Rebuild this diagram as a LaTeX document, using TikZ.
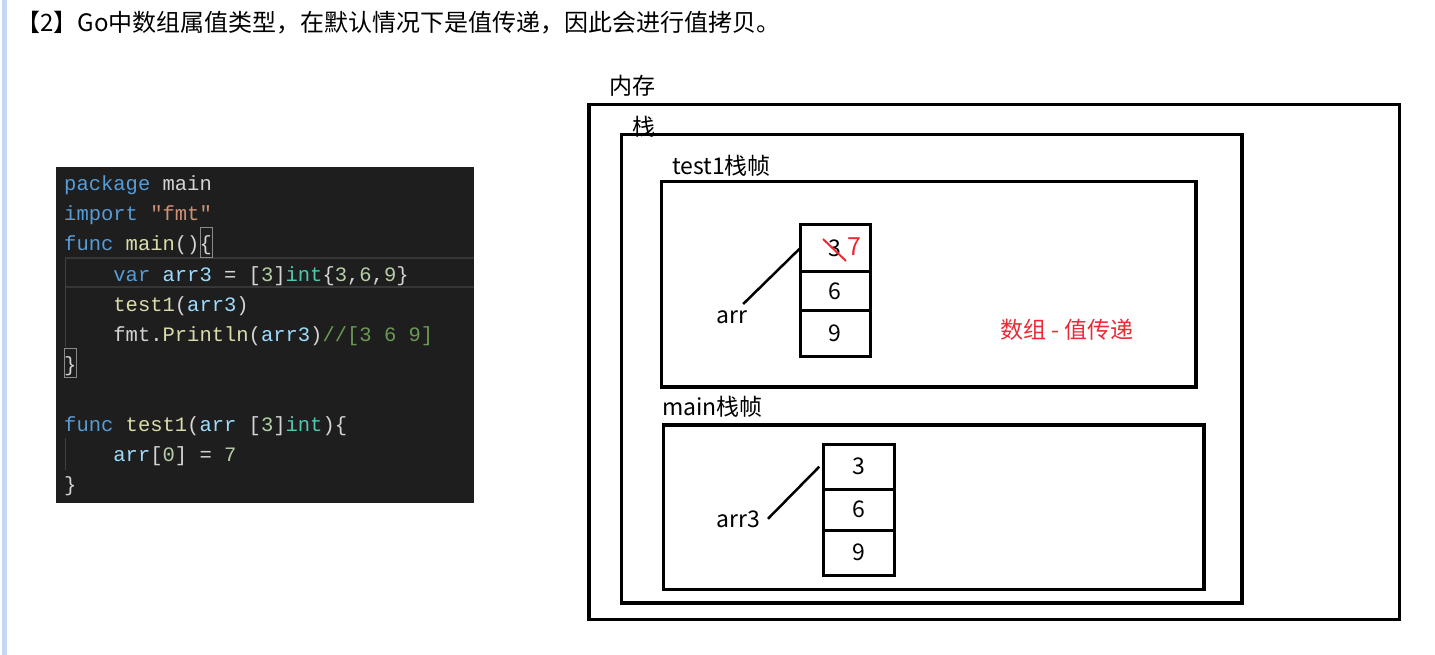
\documentclass[tikz,border=0pt]{standalone}
\usepackage{fontspec}
\usepackage{xcolor}
\usepackage{tikz}
\usetikzlibrary{positioning}
\newfontfamily\cjkfont{Noto Sans CJK SC}
\newfontfamily\codefont{Liberation Mono}
\definecolor{codebg}{HTML}{1E1E1E}
\definecolor{goplain}{HTML}{D4D4D4}
\definecolor{gokw}{HTML}{569CD6}
\definecolor{govar}{HTML}{9CDCFE}
\definecolor{gofn}{HTML}{DCDCAA}
\definecolor{gostr}{HTML}{CE9178}
\definecolor{gotype}{HTML}{4EC9B0}
\definecolor{gonum}{HTML}{B5CEA8}
\definecolor{gocmt}{HTML}{6A9955}
\definecolor{hlline}{HTML}{363636}
\definecolor{guideline}{HTML}{404040}
\definecolor{bracketbox}{HTML}{8A8A8A}
\definecolor{notered}{HTML}{EC2A36}
\definecolor{sidebar}{HTML}{C4D9F5}
\newcommand\gokw[1]{\textcolor{gokw}{#1}}
\newcommand\govar[1]{\textcolor{govar}{#1}}
\newcommand\gofn[1]{\textcolor{gofn}{#1}}
\newcommand\gostr[1]{\textcolor{gostr}{#1}}
\newcommand\gotype[1]{\textcolor{gotype}{#1}}
\newcommand\gonum[1]{\textcolor{gonum}{#1}}
\newcommand\gocmt[1]{\textcolor{gocmt}{#1}}
\newcommand\labelfont{\cjkfont\fontsize{23pt}{28pt}\selectfont}
\tikzset{
  framebox/.style={draw, line width=3.5pt, anchor=north west, inner sep=0pt, outer sep=0pt},
  cellbox/.style={draw, line width=3pt, minimum width=70.7pt, inner sep=0pt, outer sep=0pt, font=\labelfont},
  labeltext/.style={anchor=base west, inner sep=0pt, font=\labelfont},
  codeline/.style={anchor=base west, inner sep=0pt, text=goplain, font=\codefont\fontsize{20.5pt}{24pt}\selectfont},
  linkline/.style={line width=2.5pt},
  noteline/.style={draw=notered, line width=2pt}
}

\begin{document}
\begin{tikzpicture}[x=1pt, y=-1pt]
  \useasboundingbox (0,0) rectangle (1435,655);
  \fill[sidebar] (2,0) rectangle (7,655);
  \node[labeltext, font=\cjkfont\fontsize{24pt}{28pt}\selectfont] (title) at (16,31.5) {【2】Go中数组属值类型，在默认情况下是值传递，因此会进行值拷贝。};

  % code panel
  \node[fill=codebg, anchor=north west, inner sep=0pt, outer sep=0pt, minimum width=418pt, minimum height=336pt] (code) at (56,167) {};
  \draw[hlline, line width=1.5pt] (65,258) -- (474,258) (65,287) -- (474,287);
  \draw[guideline, line width=1pt] (65,258) -- (65,347) (65,438) -- (65,470);
  \draw[bracketbox, line width=1pt] (200.5,228) rectangle (212.5,257);
  \draw[bracketbox, line width=1pt] (64,348) rectangle (76.5,377);
  \node[codeline] (l1) at (64,191) {\gokw{package} main};
  \node[codeline] (l2) at (64,221) {\gokw{import} \gostr{"fmt"}};
  \node[codeline] (l3) at (64,251) {\gokw{func} \gofn{main}()\{};
  \node[codeline] (l4) at (113.2,281) {\gokw{var} \govar{arr3} = [\gonum{3}]\gotype{int}\{\gonum{3},\gonum{6},\gonum{9}\}};
  \node[codeline] (l5) at (113.2,311) {\gofn{test1}(\govar{arr3})};
  \node[codeline] (l6) at (113.2,341) {fmt.\gofn{Println}(\govar{arr3})\gocmt{//[3 6 9]}};
  \node[codeline] (l7) at (64,371) {\}};
  \node[codeline] (l9) at (64,431) {\gokw{func} \gofn{test1}(\govar{arr} [\gonum{3}]\gotype{int})\{};
  \node[codeline] (l10) at (113.2,461) {\govar{arr}[\gonum{0}] = \gonum{7}};
  \node[codeline] (l11) at (64,491) {\}};

  % memory frames
  \node[framebox, minimum width=810.5pt, minimum height=515.4pt] (memory) at (589,104.3) {};
  \node[framebox, minimum width=620.3pt, minimum height=468.7pt] (stack) at (621.7,134.3) {};
  \node[framebox, minimum width=534.3pt, minimum height=205.3pt] (test1frame) at (661.7,181.7) {};
  \node[framebox, minimum width=540.7pt, minimum height=164.5pt] (mainframe) at (663.3,425) {};
  \node[labeltext] (memlabel) at (609,95) {内存};
  \node[labeltext] (stacklabel) at (632,136) {栈};
  \node[labeltext] (test1label) at (672,175) {test1栈帧};
  \node[labeltext] (mainlabel) at (662,415) {main栈帧};

  % test1 array
  \node[cellbox, minimum height=46.7pt] (t1a) at (835.35,248.35) {3};
  \node[cellbox, minimum height=39pt, below=0pt of t1a] (t1b) {6};
  \node[cellbox, minimum height=46pt, below=0pt of t1b] (t1c) {9};
  \draw[noteline] ([shift={(-12.35,-9.35)}]t1a.center) -- ([shift={(10.65,12.65)}]t1a.center);
  \node[labeltext, text=notered, font=\cjkfont\fontsize{25pt}{28pt}\selectfont] (seven) at (847,255) {7};
  \node[labeltext] (arr) at (716,323) {arr};
  \draw[linkline] ([shift={(-4,-6)}]arr.north east) -- (t1a.west);
  \node[labeltext, text=notered] (note) at (1000,338) {数组 - 值传递};

  % main array
  \node[cellbox, minimum height=45.3pt] (m1a) at (858.65,466.65) {3};
  \node[cellbox, minimum height=40.7pt, below=0pt of m1a] (m1b) {6};
  \node[cellbox, minimum height=45.3pt, below=0pt of m1b] (m1c) {9};
  \node[labeltext] (arr3) at (716,527) {arr3};
  \draw[linkline] ([xshift=8pt]arr3.east) -- ([xshift=-4pt]m1a.west);
\end{tikzpicture}
\end{document}
